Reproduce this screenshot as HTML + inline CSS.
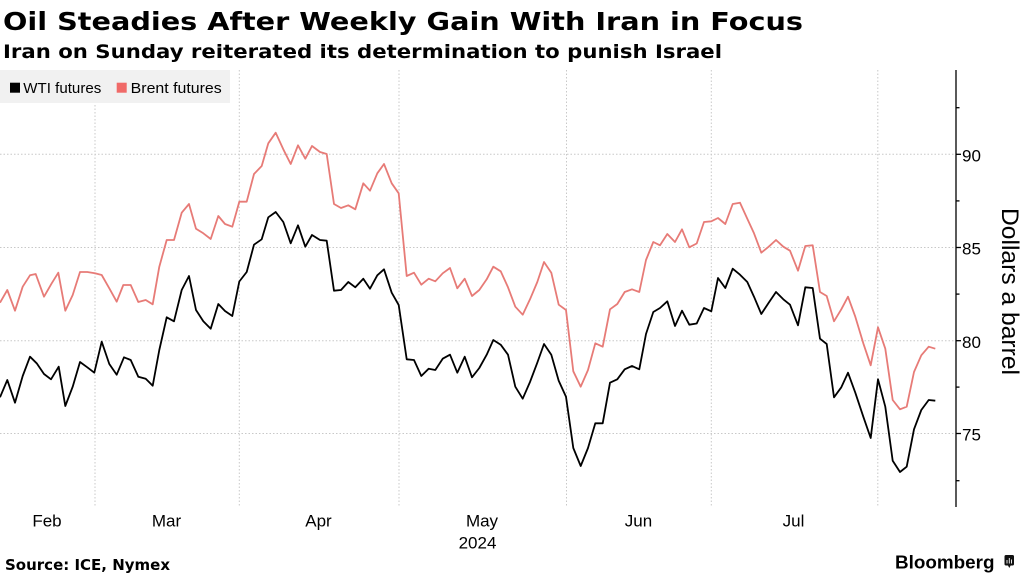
<!DOCTYPE html>
<html><head><meta charset="utf-8"><style>
html,body{margin:0;padding:0;background:#fff;}
svg{display:block;}
</style></head><body>
<svg width="1024" height="576" viewBox="0 0 1024 576" xmlns="http://www.w3.org/2000/svg">
<rect width="1024" height="576" fill="#fff"/>
<text x="3" y="30" font-family="DejaVu Sans, sans-serif" font-weight="bold" font-size="25" fill="#000" textLength="800" lengthAdjust="spacingAndGlyphs">Oil Steadies After Weekly Gain With Iran in Focus</text>
<text x="3" y="58" font-family="DejaVu Sans, sans-serif" font-weight="bold" font-size="19" fill="#000" textLength="719" lengthAdjust="spacingAndGlyphs">Iran on Sunday reiterated its determination to punish Israel</text>

<g stroke="#c8c8c8" stroke-width="1" stroke-dasharray="1.5,2">
<line x1="0" y1="154.3" x2="956" y2="154.3"/>
<line x1="0" y1="247.5" x2="956" y2="247.5"/>
<line x1="0" y1="340.7" x2="956" y2="340.7"/>
<line x1="0" y1="433.5" x2="956" y2="433.5"/>
<line x1="95" y1="70" x2="95" y2="507"/>
<line x1="239.3" y1="70" x2="239.3" y2="507"/>
<line x1="399" y1="70" x2="399" y2="507"/>
<line x1="566.5" y1="70" x2="566.5" y2="507"/>
<line x1="711.3" y1="70" x2="711.3" y2="507"/>
<line x1="877.8" y1="70" x2="877.8" y2="507"/>
</g>

<rect x="0" y="70" width="230" height="33" fill="#f1f1f1"/>
<rect x="10" y="82.7" width="10" height="10" fill="#000"/>
<text x="23.3" y="93" font-family="Liberation Sans, sans-serif" font-size="15" fill="#000" textLength="78" lengthAdjust="spacingAndGlyphs">WTI futures</text>
<rect x="116.7" y="82.7" width="10" height="10" fill="#f06a68"/>
<text x="130.7" y="93" font-family="Liberation Sans, sans-serif" font-size="15" fill="#000" textLength="91" lengthAdjust="spacingAndGlyphs">Brent futures</text>

<polyline fill="none" stroke="#e77b77" stroke-width="1.8" stroke-linejoin="round" points="0,302.7 7.3,290 15,310.7 22.7,286.7 30,275.3 35.7,274 44,296.7 51.7,283.3 58.3,272.7 65.3,310.7 72.7,295 80,272 87.3,272 95,273.3 101.7,275 109.3,288.3 116.7,301.7 123.3,285 130.7,285 138.3,302 145.7,300 152.7,304.3 159.3,266.7 166.7,240 174,240 181.7,212.7 189,204 196,228.7 203.3,233.3 210.7,239 218.3,216 225,224 232.3,226.7 239.3,201.7 246.7,201.7 254,174 261.7,166 268.3,143.3 275.7,132.7 283.3,149.3 290.7,164 298,145.3 305.3,158.7 312,146 320,152 326.7,154 334,204 341,208 348.3,205.3 355.3,209.3 363.3,183.3 370,190.7 377.3,173.3 384,164 391.7,183.3 398.7,193.3 406.7,276 414,272.7 421.3,284.7 428.7,278.7 435.3,281.3 442.7,273.3 450,268 457.3,288.3 464.7,278.7 472,296 479.3,290 486.7,279.3 493.3,266.7 500.7,271.3 508,287.3 515.3,306.7 522.7,314.7 530,299.3 537.3,282 544,262 551.3,272.7 558.7,304.7 566,310 573.3,371.3 580.7,386.7 588,370 595.3,343.3 602.7,346.7 610,309.3 617.3,304 624.7,292 632,289.3 639.3,292 646,260 653.3,242 660,245.3 667.3,234 675,242 682,229.3 689.3,247.3 696.7,243.5 704,222 711.3,221.3 718,218 725.3,224 732.7,204 740,202.7 747.3,218.7 754,233.3 761.3,252.7 768.7,246.7 776,240 783.3,246.7 790,250.7 798,270.7 805.3,246 812.7,245.3 820,292 826.7,296 834,321.3 841.3,309.3 848,296.7 855.3,316.7 863.3,343.3 870.7,365.3 878,327.3 885.3,348.7 892.7,400 900,409.3 906.7,406.7 914,372 921.3,355.3 928.7,346.7 935.3,348.7"/>

<polyline fill="none" stroke="#000" stroke-width="1.8" stroke-linejoin="round" points="0,397.3 7.3,380 15,402.7 22.7,376 30,356.7 36.7,363.3 44,374 51,379.3 58.7,366.7 65.3,406 72.7,386.7 80,362 87.3,367.3 94.3,372.7 101.7,341.7 109.3,364 116.7,374.7 124,357.3 130.7,360 138.3,376.7 145.7,378.7 152.7,385.7 159.3,350 166.7,317.3 174,321.3 181.7,290 189,276 196,310 203.3,321.3 210.7,328.7 218.3,304 225,311 232.3,316 239.3,281.5 246.7,272 254,244.7 261.7,239.3 268.3,217.3 275.7,212 283.3,222 290.7,243.3 298,225.3 305.3,246.7 312,235 320,240 326.7,240.7 334,290.7 341,290 348.3,282 355.3,287.3 363.3,278.7 370,288.7 377.3,275.3 384,269.3 391.7,292.7 398.7,305 406.7,359.3 414,360 421.3,376 428.7,368.7 435.3,370 442.7,358.7 450,354.7 457.3,372.7 464.7,356.7 472,377.3 479.3,368 486.7,354.7 493.3,340 500.7,344.7 508,354.7 515.3,386.7 522.7,398.7 530,382 537.3,362.7 544,344 551.3,354.7 558.7,380.7 566,396.7 573.3,448 580.7,466 588,448 595.3,423.3 602.7,423.3 610,382.7 617.3,379.3 624.7,369.3 632,366 639.3,369.3 646,334 653.3,312 660,308 667.3,301.3 675,326 682,310.7 689.3,324.7 696.7,323.5 704,308 711.3,311.3 718,278 725.3,288 732.7,268.7 740,274.7 747.3,282 754,296.7 761.3,314 768.7,302.7 776,292 783.3,299.3 790,304.7 798,325.3 805.3,287.3 812.7,288 820,338.7 826.7,344 834,397.3 841.3,387.3 848,372.7 855.3,392.7 863.3,416.7 870.7,438 878,379.3 885.3,406.7 892.7,460.7 900,472 906.7,466.7 914,429.3 921.3,410 928.7,400 935.3,400.7"/>

<g stroke="#000" stroke-width="1.3">
<line x1="956" y1="70" x2="956" y2="507"/>
<line x1="956" y1="154.3" x2="961" y2="154.3"/>
<line x1="956" y1="247.5" x2="961" y2="247.5"/>
<line x1="956" y1="340.7" x2="961" y2="340.7"/>
<line x1="956" y1="433.5" x2="961" y2="433.5"/>
<line x1="956" y1="107.7" x2="959.5" y2="107.7"/>
<line x1="956" y1="200.9" x2="959.5" y2="200.9"/>
<line x1="956" y1="294.1" x2="959.5" y2="294.1"/>
<line x1="956" y1="387.1" x2="959.5" y2="387.1"/>
<line x1="956" y1="480.7" x2="959.5" y2="480.7"/>
</g>
<g font-family="Liberation Sans, sans-serif" font-size="17" fill="#000">
<text x="962" y="161.5">90</text>
<text x="962" y="254.7">85</text>
<text x="962" y="347.9">80</text>
<text x="962" y="440.7">75</text>
</g>
<text transform="translate(1002,208) rotate(90)" font-family="Liberation Sans, sans-serif" font-size="24" fill="#000" textLength="167" lengthAdjust="spacingAndGlyphs">Dollars a barrel</text>

<g font-family="Liberation Sans, sans-serif" font-size="17" fill="#000" text-anchor="middle">
<text x="47" y="526.7">Feb</text>
<text x="166.5" y="526.7">Mar</text>
<text x="318.5" y="526.7">Apr</text>
<text x="482" y="526.7">May</text>
<text x="638.5" y="526.7">Jun</text>
<text x="793.5" y="526.7">Jul</text>
<text x="477.5" y="548.3">2024</text>
</g>

<text x="5" y="570" font-family="DejaVu Sans, sans-serif" font-weight="bold" font-size="15" fill="#000" textLength="165" lengthAdjust="spacingAndGlyphs">Source: ICE, Nymex</text>
<text x="895" y="568.3" font-family="Liberation Sans, sans-serif" font-weight="bold" font-size="18" fill="#000" textLength="99.5" lengthAdjust="spacingAndGlyphs">Bloomberg</text>
<rect x="1004.5" y="555" width="9.5" height="10.5" rx="1.5" fill="#111"/>
<path d="M1008 565.5 L1009.3 568 L1010.6 565.5 Z" fill="#111"/>
<g stroke="#fff" stroke-width="0.9">
<line x1="1007" y1="563.5" x2="1007" y2="560"/>
<line x1="1009.3" y1="563.5" x2="1009.3" y2="558"/>
<line x1="1011.5" y1="563.5" x2="1011.5" y2="559.5"/>
</g>
</svg>
</body></html>
